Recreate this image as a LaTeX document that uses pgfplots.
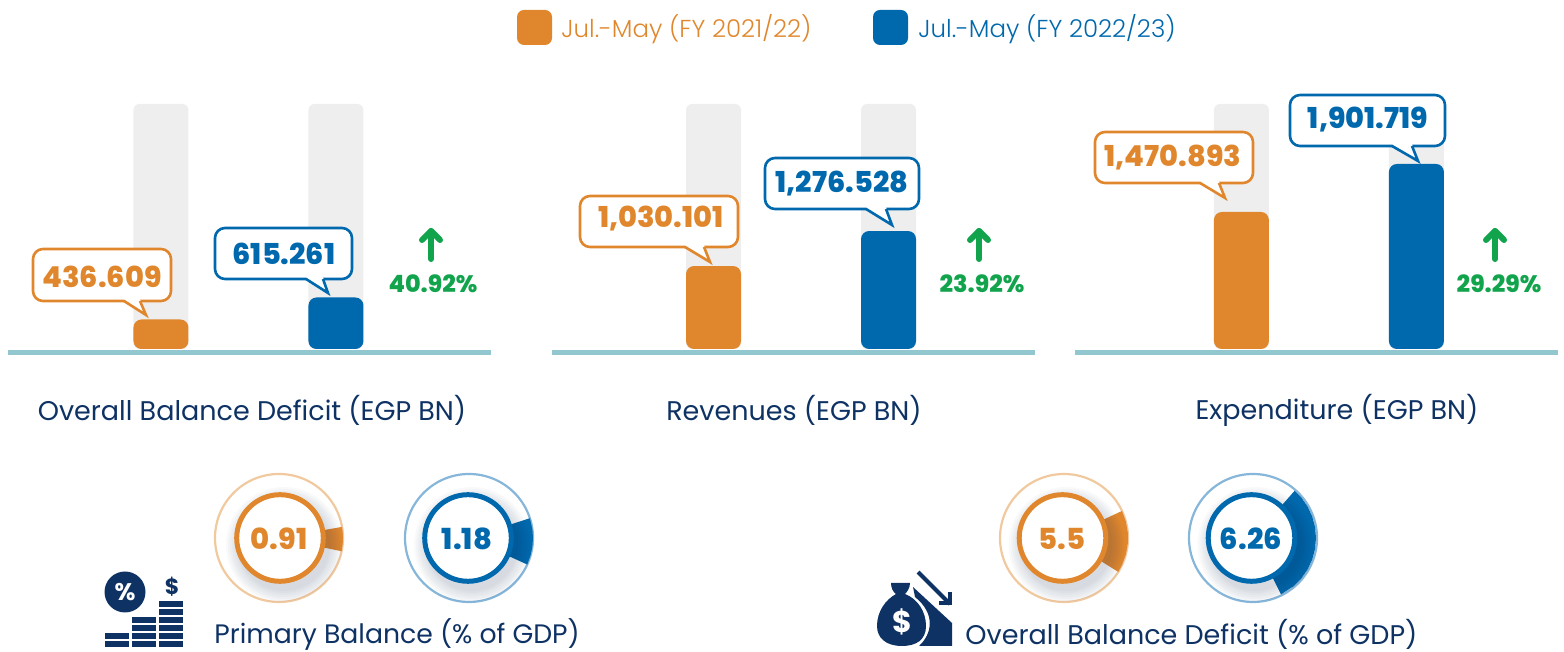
\documentclass[border=0pt]{standalone}
\usepackage{pgfplots}
\pgfplotsset{compat=1.18}
\usepackage{fontspec}
\setmainfont{Poppins}
\newfontfamily\lightf{Poppins Light}
\newfontfamily\heavy{Poppins ExtraBold}
\definecolor{cO}{HTML}{E0872D}
\definecolor{cB}{HTML}{0068AD}
\definecolor{cOl}{HTML}{F1C99F}
\definecolor{cBl}{HTML}{86B6DA}
\definecolor{cN}{HTML}{0E3263}
\definecolor{cG}{HTML}{11A44D}
\definecolor{cL}{HTML}{93C7CF}
\definecolor{cBg}{HTML}{EEEEEE}
\definecolor{cS}{HTML}{1C3557}
\tikzset{P/.style={x=0.5pt,y=-0.5pt,shift={(0,326pt)}}}
\pgfplotsset{
 barpanel/.style={hide axis,scale only axis,clip=false,anchor=south west,
  width=241.5pt,height=122.5pt,ymin=0,ybar,bar shift=0pt,bar width=27.5pt},
 gauge/.style={hide axis,scale only axis,clip=false,anchor=center,
  width=80pt,height=80pt,xmin=-80,xmax=80,ymin=-80,ymax=80},
}
\newcommand{\fs}[1]{\fontsize{\dimexpr#1pt/2\relax}{\dimexpr#1pt/2\relax}\selectfont}
\newcommand{\callout}[9]{% colour, x1,y1,x2,y2, taila, tipx, tipy, tailb
 \draw[#1,fill=white,line width=1.3pt,rounded corners=5pt] (#2,#3) rectangle (#4,#5);
 \fill[white] (#6,#5-2) -- (#7,#8) -- (#9,#5-2) -- cycle;
 \fill[white] (#6+1,#5-2) rectangle (#9-1,#5+1);
 \draw[#1,line width=1.3pt,line join=miter] (#6,#5) -- (#7,#8) -- (#9,#5);
}
\newcommand{\upar}[3]{% x, ytop, ybot
 \draw[cG,line width=3pt,line cap=round,line join=round] (#1,#3) -- (#1,#2+3);
 \draw[cG,line width=3pt,line cap=round,line join=round] (#1-9,#2+12) -- (#1,#2+3) -- (#1+9,#2+12);
}
\newcommand{\gaugeback}[3]{% cx,cy,light colour
 \begin{scope}[P]
 \draw[#3,line width=1.1pt] (#1,#2) circle[radius=64];
 \end{scope}
}
\newcommand{\gaugefront}[5]{% outer cx, inner cx, colour, text x, text
 \begin{scope}[P]
  \begin{scope}
  \clip (#1,538) circle[radius=64];
  \foreach \r in {58,56,54,52,50,48,46}{
   \fill[cS,opacity=0.028] (#2+4,538+7) circle[radius=\r];
  }
  \end{scope}
 \fill[white] (#2,538) circle[radius=44];
 \draw[#3,line width=2.5pt] (#2,538) circle[radius=43.3];
 \node[#3,font=\heavy\fs{29}] at (#4,539) {#5};
 \end{scope}
}
\begin{document}
\begin{tikzpicture}
\path[use as bounding box] (0,0) rectangle (782pt,326pt);
\begin{scope}[P]
% legend
\fill[cO,rounded corners=3.5pt] (517,10) rectangle (552,45);
\node[cO,anchor=west,inner sep=0pt,font=\lightf\fs{24.5}] at (561,29) {Jul.-May (FY 2021/22)};
\fill[cB,rounded corners=3.5pt] (873,10) rectangle (908,45);
\node[cB,anchor=west,inner sep=0pt,font=\lightf\fs{24.5}] at (918,29) {Jul.-May (FY 2022/23)};
% base lines
\fill[cL] (8,350.5) rectangle (491,355);
\fill[cL] (552,350.5) rectangle (1035,355);
\fill[cL] (1075,350.5) rectangle (1558,355);
\end{scope}
% panel 1
\begin{axis}[barpanel,at={(4pt,151.5pt)},xmin=-0.874,xmax=1.886,ymax=1990,y filter/.expression={y-197}]
\addplot[fill=cBg,draw=none,rounded corners=3pt] coordinates {(0,2187)(1,2187)};
\addplot[fill=cO,draw=none,rounded corners=4pt] coordinates {(0,436.609)};
\addplot[fill=cB,draw=none,rounded corners=4pt] coordinates {(1,615.261)};
\end{axis}
% panel 2
\begin{axis}[barpanel,at={(276pt,151.5pt)},xmin=-0.923,xmax=1.837,ymax=1725,y filter/.expression={y-446}]
\addplot[fill=cBg,draw=none,rounded corners=3pt] coordinates {(0,2171)(1,2171)};
\addplot[fill=cO,draw=none,rounded corners=4pt] coordinates {(0,1030.101)};
\addplot[fill=cB,draw=none,rounded corners=4pt] coordinates {(1,1276.528)};
\end{axis}
% panel 3
\begin{axis}[barpanel,at={(537.5pt,151.5pt)},xmin=-0.951,xmax=1.809,ymax=2199,y filter/.expression={y-241}]
\addplot[fill=cBg,draw=none,rounded corners=3pt] coordinates {(0,2440)(1,2440)};
\addplot[fill=cO,draw=none,rounded corners=4pt] coordinates {(0,1470.893)};
\addplot[fill=cB,draw=none,rounded corners=4pt] coordinates {(1,1901.719)};
\end{axis}
\begin{scope}[P]
% callouts
\callout{cO}{33}{249}{171}{301}{124}{146}{315}{140}
\node[cO,font=\heavy\fs{28.8}] at (102,277) {436.609};
\callout{cB}{215}{228}{352}{279}{306}{328}{293}{323}
\node[cB,font=\heavy\fs{28.8}] at (284,254) {615.261};
\callout{cO}{580}{196}{738}{247}{685}{710}{262}{704}
\node[cO,font=\heavy\fs{28.8}] at (661,219) {1,030.101};
\callout{cB}{765}{158}{919}{209}{866}{892}{225}{886}
\node[cB,font=\heavy\fs{28.8}] at (842,184) {1,276.528};
\callout{cO}{1095}{132}{1253}{183}{1200}{1225}{198}{1219}
\node[cO,font=\heavy\fs{28.8}] at (1173,158) {1,470.893};
\callout{cB}{1290}{95}{1445}{146}{1392}{1418}{161}{1412}
\node[cB,font=\heavy\fs{28.8}] at (1368,120) {1,901.719};
% change arrows
\upar{431}{228}{259}
\node[cG,font=\heavy\fs{23.8}] at (433,284) {40.92\%};
\upar{979}{228}{259}
\node[cG,font=\heavy\fs{23.8}] at (982,284) {23.92\%};
\upar{1495}{228}{259}
\node[cG,font=\heavy\fs{23.8}] at (1499,284) {29.29\%};
% panel titles
\node[cN,font=\fs{27}] at (252,410) {Overall Balance Deficit (EGP BN)};
\node[cN,font=\fs{27}] at (794,410) {Revenues (EGP BN)};
\node[cN,font=\fs{27}] at (1337,410) {Expenditure (EGP BN)};
\end{scope}
% gauges
\gaugeback{279}{538}{cOl}
\begin{axis}[gauge,at={(139.5pt,57pt)}]
\addplot[data cs=polar,fill=cO,draw=none] coordinates {(-12,40)(-12,64)(-6,64)(0,64)(6,64)(10,64)(10,40)};
\end{axis}
\gaugefront{279}{280}{cO}{279}{0.91}
\gaugeback{469}{538}{cBl}
\begin{axis}[gauge,at={(234.5pt,57pt)}]
\addplot[data cs=polar,fill=cB,draw=none] coordinates {(-24.5,40)(-24.5,64)(-16,64)(-8,64)(0,64)(8,64)(18,64)(18,40)};
\end{axis}
\gaugefront{469}{468}{cB}{467}{1.18}
\gaugeback{1064}{538}{cOl}
\begin{axis}[gauge,at={(532pt,57pt)}]
\addplot[data cs=polar,fill=cO,draw=none] coordinates {(-32,40)(-32,64)(-25,64)(-15,64)(-5,64)(5,64)(15,64)(25,64)(25,40)};
\end{axis}
\gaugefront{1064}{1062.5}{cO}{1062}{5.5}
\gaugeback{1253}{538}{cBl}
\begin{axis}[gauge,at={(626.5pt,57pt)}]
\addplot[data cs=polar,fill=cB,draw=none] coordinates {(-63.6,40)(-63.6,63)(-50,63)(-40,63)(-30,63)(-20,63)(-10,63)(0,63)(10,63)(20,63)(30,63)(40,63)(48.6,63)(48.6,40)};
\end{axis}
\gaugefront{1253}{1251.5}{cB}{1251}{6.26}
\begin{scope}[P]
% bottom titles
\node[cN,anchor=west,inner sep=0pt,font=\fs{26.7}] at (214,634) {Primary Balance (\% of GDP)};
\node[cN,anchor=west,inner sep=0pt,font=\fs{27}] at (965,634) {Overall Balance Deficit (\% of GDP)};
% icon 1
\fill[cN] (125,592) circle[radius=20.5];
\node[white,font=\bfseries\fs{24}] at (125,592) {\%};
\node[cN,font=\bfseries\fs{22}] at (172,587) {\$};
\foreach \yy in {641,633}{\fill[cN] (105,\yy) rectangle (129,\yy+6);\fill[cN] (132,\yy) rectangle (156,\yy+6);\fill[cN] (159,\yy) rectangle (183,\yy+6);}
\foreach \yy in {625,617}{\fill[cN] (132,\yy) rectangle (156,\yy+6);\fill[cN] (159,\yy) rectangle (183,\yy+6);}
\foreach \yy in {609,601}{\fill[cN] (159,\yy) rectangle (183,\yy+6);}
% icon 2
\fill[cN] (913,587) -- (952,623) -- (952,646) -- (919,646) .. controls (932,634) and (936,614) .. (915,597) -- cycle;
\fill[cN] (891,583) -- (910,583) .. controls (910,588) and (907,592) .. (905,594)
 .. controls (918,599) and (926,612) .. (926,626) .. controls (926,640) and (916,646) .. (902,646)
 .. controls (886,646) and (877,638) .. (877,626) .. controls (877,612) and (885,600) .. (896,594)
 .. controls (893,592) and (891,588) .. (891,583) -- cycle;
\node[white,font=\bfseries\fs{30}] at (902,622) {\$};
\draw[cN,line width=2pt] (918,572) -- (950,604);
\draw[cN,line width=2pt,line join=miter] (950,592) -- (950,603) -- (939,603);
\end{scope}
\end{tikzpicture}
\end{document}
